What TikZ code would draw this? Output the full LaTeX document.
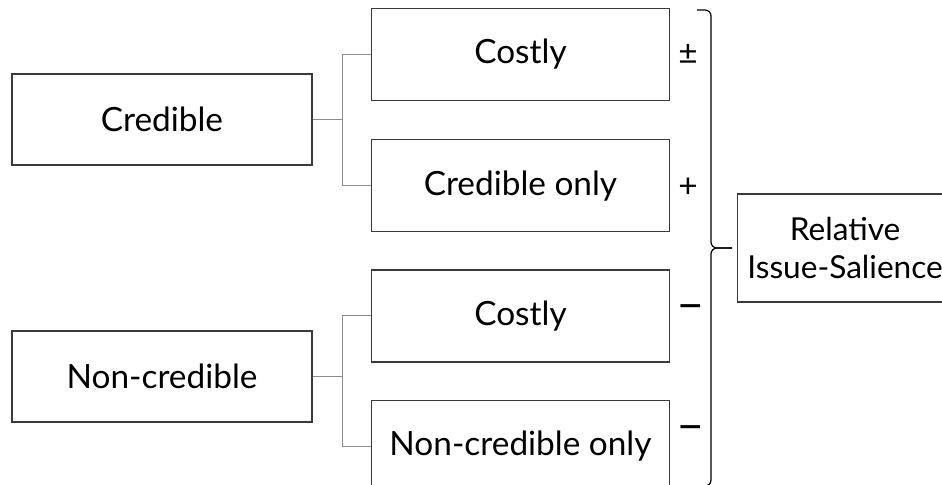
\documentclass[tikz,border=0pt]{standalone}
\usepackage{fontspec}
\setmainfont{Lato}
\usetikzlibrary{positioning,calc}
\definecolor{ink}{HTML}{3A3A3A}
\definecolor{wire}{HTML}{8C8C8C}
\tikzset{
  every node/.style={font=\fontsize{19}{22}\selectfont},
  box/.style={draw=ink, line width=0.7pt, minimum width=6cm, minimum height=1.82cm,
              align=center, inner sep=0pt, fill=white},
  subbox/.style={box, minimum width=5.96cm, minimum height=1.84cm},
  salbox/.style={box, minimum width=4.3cm, minimum height=2.16cm,
                 font=\fontsize{18}{21.5}\selectfont},
  wire/.style={draw=wire, line width=0.6pt},
  sign/.style={inner sep=0pt, anchor=west},
  minus/.style={sign, font=\fontsize{26}{26}\selectfont},
  bracket/.style={draw=black, line width=0.7pt, rounded corners=0.12cm},
}

\begin{document}
\begin{tikzpicture}[x=0.02cm, y=-0.02cm]
\useasboundingbox (0,0) rectangle (942,484);

% signal types
\node[box] (cred) at (162,119.5) {Credible};
\node[box] (noncred) at (162,376.5) {Non-credible};

% sub-types
\node[subbox] (costA) at (520.5,54.5) {Costly};
\node[subbox, below=0.76cm of costA] (credonly) {Credible only};
\node[subbox, below=0.74cm of credonly] (costB) {Costly};
\node[subbox, below=0.74cm of costB] (nconly) {Non-credible only};

% forks
\coordinate[right=0.6cm of cred] (forkA);
\coordinate[right=0.6cm of noncred] (forkB);
\draw[wire] (cred) -- (forkA);
\draw[wire] (costA.west) -| (forkA) |- (credonly.west);
\draw[wire] (noncred) -- (forkB);
\draw[wire] (costB.west) -| (forkB) |- (nconly.west);

% effects
\node[sign] (sgnA) at ($(costA.east)+(8,0)$) {±};
\node[sign] (sgnB) at ($(credonly.east)+(8,2)$) {+};
\node[minus] (sgnC) at ($(costB.east)+(7,-3)$) {−};
\node[minus] (sgnD) at ($(nconly.east)+(7,-12)$) {−};

% outcome
\coordinate (bracetop) at (697,10);
\coordinate (bracetip) at (732,248);
\coordinate (bracebot) at (697,486);
\draw[bracket] (bracetop) -- (711,10) -- (711,248) -- (bracetip);
\draw[bracket] (bracetip) -- (711,248) -- (711,486) -- (bracebot);
\node[salbox, anchor=west] (sal) at (737,248) {Relative\\Issue-Salience};

\end{tikzpicture}
\end{document}
